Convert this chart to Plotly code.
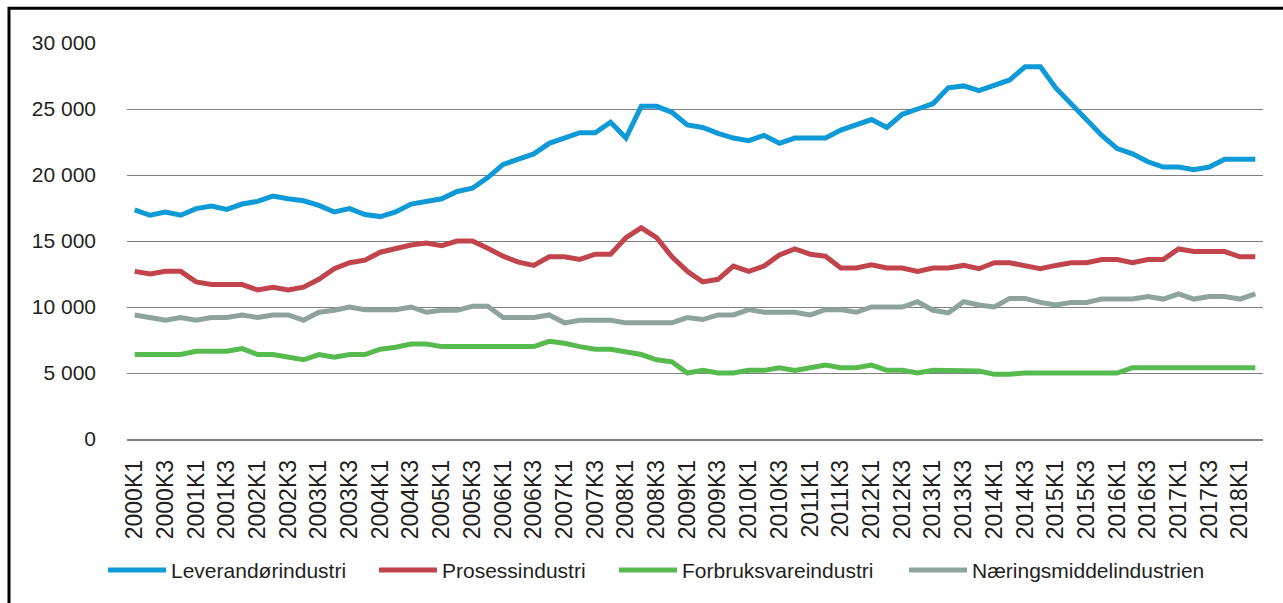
import plotly.graph_objects as go

years = list(range(2000, 2019))
quarters = ["K1", "K2", "K3", "K4"]
periods = [f"{y}{q}" for y in years for q in quarters][:74]  # 2000K1 .. 2018K2

leverandor = [
    17350, 16950, 17200, 16950, 17450, 17650, 17400, 17800, 18000, 18400,
    18200, 18050, 17700, 17200, 17450, 17000, 16850, 17200, 17800, 18000,
    18200, 18750, 19000, 19800, 20800, 21200, 21600, 22400, 22800, 23200,
    23200, 24000, 22800, 25200, 25200, 24750, 23800, 23600, 23150, 22800,
    22600, 23000, 22400, 22800, 22800, 22800, 23400, 23800, 24200, 23600,
    24600, 25000, 25400, 26600, 26750, 26400, 26800, 27200, 28200, 28200,
    26600, 25400, 24200, 23000, 22000, 21600, 21000, 20600, 20600, 20400,
    20600, 21200, 21200, 21200,
]
prosess = [
    12700, 12500, 12700, 12700, 11900, 11700, 11700, 11700, 11300, 11500,
    11300, 11500, 12100, 12900, 13350, 13550, 14150, 14400, 14700, 14850,
    14650, 15000, 15000, 14450, 13850, 13400, 13150, 13800, 13800, 13600,
    14000, 14000, 15250, 16000, 15250, 13800, 12700, 11900, 12100, 13100,
    12700, 13100, 13950, 14400, 14000, 13850, 12950, 12950, 13200, 12950,
    12950, 12700, 12950, 12950, 13150, 12900, 13350, 13350, 13150, 12900,
    13150, 13350, 13350, 13600, 13600, 13350, 13600, 13600, 14400, 14200,
    14200, 14200, 13800, 13800,
]
forbruksvare = [
    6400, 6400, 6400, 6400, 6650, 6650, 6650, 6850, 6400, 6400,
    6200, 6000, 6400, 6200, 6400, 6400, 6800, 6950, 7200, 7200,
    7000, 7000, 7000, 7000, 7000, 7000, 7000, 7400, 7250, 7000,
    6800, 6800, 6600, 6400, 6000, 5850, 5000, 5200, 5000, 5000,
    5200, 5200, 5400, 5200, 5400, 5600, 5400, 5400, 5600, 5200,
    5200, 5000, 5200, 5200, 5200, 5150, 4900, 4900, 5000, 5000,
    5000, 5000, 5000, 5000, 5000, 5400, 5400, 5400, 5400, 5400,
    5400, 5400, 5400, 5400,
]
naeringsmiddel = [
    9400, 9200, 9000, 9200, 9000, 9200, 9200, 9400, 9200, 9400,
    9400, 9000, 9600, 9750, 10000, 9800, 9800, 9800, 10000, 9600,
    9750, 9750, 10050, 10050, 9200, 9200, 9200, 9400, 8800, 9000,
    9000, 9000, 8800, 8800, 8800, 8800, 9200, 9050, 9400, 9400,
    9800, 9600, 9600, 9600, 9400, 9800, 9800, 9600, 10000, 10000,
    10000, 10400, 9750, 9550, 10400, 10150, 10000, 10650, 10650, 10350,
    10150, 10350, 10350, 10600, 10600, 10600, 10800, 10600, 11000, 10600,
    10800, 10800, 10600, 11000,
]

series = [
    ("Leverandørindustri", leverandor, "#0E9AD7"),
    ("Prosessindustri", prosess, "#C1444C"),
    ("Forbruksvareindustri", forbruksvare, "#57BA4F"),
    ("Næringsmiddelindustrien", naeringsmiddel, "#8FA39E"),
]

y_ticks = [0, 5000, 10000, 15000, 20000, 25000, 30000]
y_labels = ["0", "5 000", "10 000", "15 000", "20 000", "25 000", "30 000"]

W, H = 1283, 603
L, R, T, B = 127, 20, 43, 162
pw, ph = W - L - R, H - T - B

# left edge (px) of each legend entry, spaced like the original
legend_left = [103, 374, 614, 904]

fig = go.Figure()
layout_legends = {}
for i, (name, values, colour) in enumerate(series):
    key = "legend" if i == 0 else f"legend{i + 1}"
    fig.add_trace(go.Scatter(
        x=periods, y=values, name=name, mode="lines",
        line=dict(color=colour, width=5), legend=key,
    ))
    layout_legends[key] = dict(
        orientation="h", x=(legend_left[i] - L) / pw, xanchor="left",
        y=(441 - 573) / ph, yanchor="middle",
        font=dict(size=21), itemwidth=58, bgcolor="rgba(0,0,0,0)",
    )

fig.update_layout(
    width=W, height=H,
    margin=dict(l=L, r=R, t=T, b=B),
    paper_bgcolor="white", plot_bgcolor="white",
    font=dict(family="Liberation Sans, Arial, sans-serif", size=21, color="#231F20"),
    showlegend=True,
    # outer frame of the figure box
    shapes=[dict(
        type="rect", xref="paper", yref="paper",
        x0=(9 - L) / pw, x1=(W + 10 - L) / pw,
        y0=(441 - (H + 10)) / ph, y1=1 + (T - 8) / ph,
        line=dict(color="black", width=3),
    )],
    **layout_legends,
)

fig.update_xaxes(
    type="category", range=[-0.5, len(periods) - 0.5],
    tickvals=periods[::2], tickangle=-90,
    tickfont=dict(size=23), ticks="", showgrid=False,
    showline=True, linecolor="#808080", linewidth=1.5,
    ticklabelstandoff=10,
)
fig.update_yaxes(
    range=[0, 30000], tickvals=y_ticks, ticktext=y_labels,
    showgrid=True, gridcolor="#808080", gridwidth=1.3,
    zeroline=False, showline=False, ticks="",
    ticklabelstandoff=30,
)

fig.write_html(
    "out.html",
    config={"displayModeBar": False},
    post_script="document.body.style.margin = '0';",
)
